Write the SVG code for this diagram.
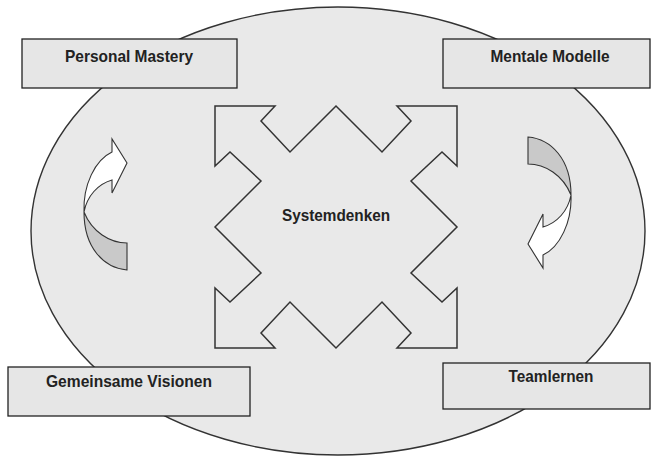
<svg xmlns="http://www.w3.org/2000/svg" xmlns:xlink="http://www.w3.org/1999/xlink" width="651" height="456" viewBox="0 0 651 456">
  <style>
    .box { fill: #e6e6e6; stroke: #222; stroke-width: 1.3; }
    .lbl { font-family: "Liberation Sans", Arial, sans-serif; font-weight: bold; font-size: 17px; fill: #222; text-anchor: middle; }
    .curl-back { fill: #c9c9c9; stroke: #333; stroke-width: 1.1; }
    .curl-front { fill: #ffffff; stroke: #333; stroke-width: 1.1; }
  </style>
  <defs>
    <g id="curl">
      <path class="curl-back" d="M 84,212 C 84,248 104,268 127,270 L 127,243 C 110,243 92,232 84,212 Z"/>
      <path class="curl-front" d="M 84,212 C 83,185 95,160 112,152 L 112,139 L 127,163 L 112,193 L 112,180 C 98,184 87,196 84,212 Z"/>
    </g>
  </defs>
  <rect width="651" height="456" fill="#ffffff"/>
  <g id="background">
    <ellipse cx="338" cy="231" rx="307" ry="224" fill="#e9e9e9" stroke="#333" stroke-width="1.4"/>
  </g>
  <g id="connectors">
    <use xlink:href="#curl" href="#curl"/>
    <use xlink:href="#curl" href="#curl" transform="rotate(180 327.5 203.5)"/>
  </g>
  <g id="systemdenken">
    <polygon points="215,106 275,106 261,121 290,152 336,106 382,152 411,121 397,106 457,106 457,166 442,152 411,181 457,227 411,273 442,302 457,288 457,348 397,348 411,333 382,302 336,348 290,302 261,333 275,348 215,348 215,288 230,302 261,273 215,227 261,181 230,152 215,166" fill="#e9e9e9" stroke="#333" stroke-width="1.5" stroke-linejoin="miter"/>
    <text class="lbl" x="336" y="221" font-size="16" textLength="108" lengthAdjust="spacingAndGlyphs">Systemdenken</text>
  </g>
  <g id="personal-mastery">
    <rect class="box" x="22" y="39" width="215" height="49"/>
    <text class="lbl" x="129" y="62" textLength="128" lengthAdjust="spacingAndGlyphs">Personal Mastery</text>
  </g>
  <g id="mentale-modelle">
    <rect class="box" x="443" y="39" width="207" height="49"/>
    <text class="lbl" x="550" y="62" textLength="119" lengthAdjust="spacingAndGlyphs">Mentale Modelle</text>
  </g>
  <g id="gemeinsame-visionen">
    <rect class="box" x="8" y="367" width="242" height="49"/>
    <text class="lbl" x="129" y="387" textLength="166" lengthAdjust="spacingAndGlyphs">Gemeinsame Visionen</text>
  </g>
  <g id="teamlernen">
    <rect class="box" x="443" y="363" width="207" height="46"/>
    <text class="lbl" x="551" y="382" textLength="85" lengthAdjust="spacingAndGlyphs">Teamlernen</text>
  </g>
</svg>
